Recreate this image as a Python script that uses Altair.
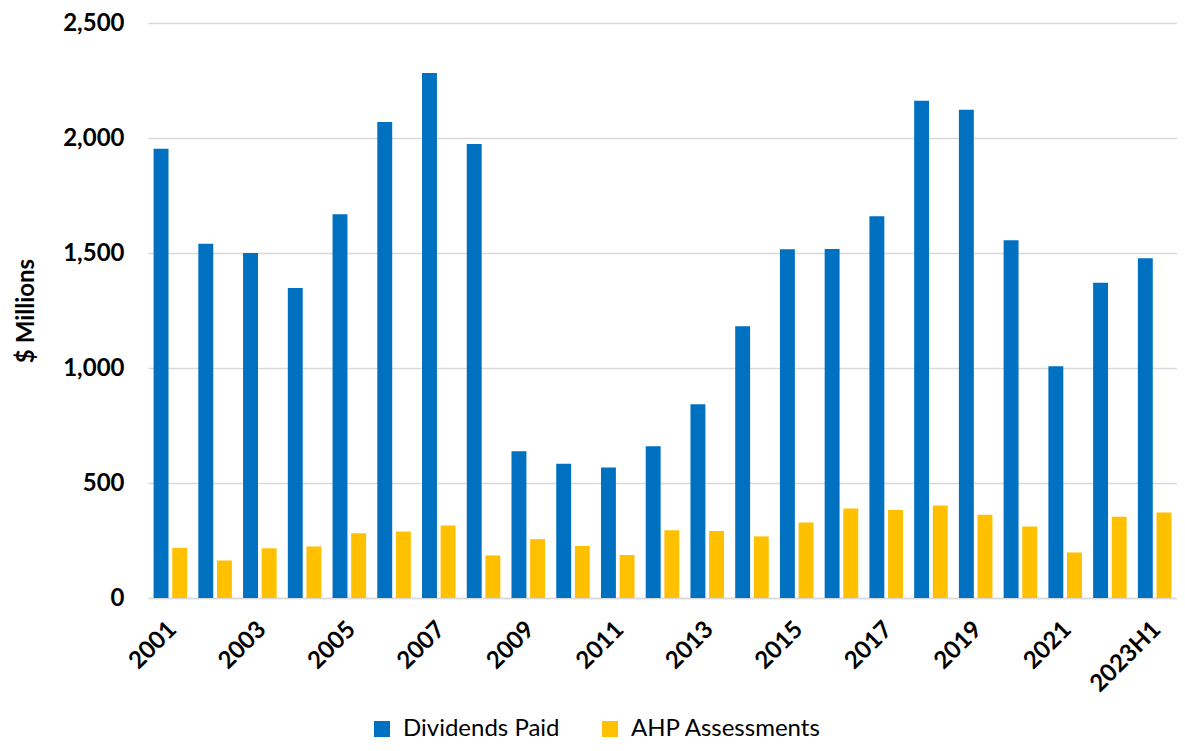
import altair as alt
import pandas as pd

years = ["2001", "2002", "2003", "2004", "2005", "2006", "2007", "2008", "2009", "2010",
         "2011", "2012", "2013", "2014", "2015", "2016", "2017", "2018", "2019", "2020",
         "2021", "2022", "2023H1"]
dividends = [1953, 1540, 1500, 1348, 1669, 2070, 2283, 1974, 638, 584,
             567, 660, 842, 1182, 1516, 1517, 1660, 2162, 2123, 1555,
             1008, 1371, 1477]
ahp = [218, 163, 216, 224, 281, 289, 315, 185, 256, 226,
       187, 295, 291, 268, 328, 389, 383, 402, 362, 311,
       198, 353, 372]
series = ["Dividends Paid", "AHP Assessments"]
colors = ["#0070C0", "#FFC000"]
y_ticks = [0, 500, 1000, 1500, 2000, 2500]
x_labels = years[::2]

rows = []
for i, yr in enumerate(years):
    rows.append({"year": yr, "series": series[0], "value": dividends[i]})
    rows.append({"year": yr, "series": series[1], "value": ahp[i]})
df = pd.DataFrame(rows)

FONT = "Lato"

chart = alt.Chart(df).mark_bar().encode(
    x=alt.X("year:N", sort=years,
            scale=alt.Scale(paddingInner=0.25, paddingOuter=0.125),
            axis=alt.Axis(values=x_labels, labelAngle=-45, title=None,
                          labelFont=FONT, labelFontWeight="bold", labelFontSize=24,
                          labelColor="#000000", labelPadding=19, labelOffset=-6,
                          ticks=False, domainColor="#d9d9d9", domainWidth=1.5,
                          grid=False)),
    xOffset=alt.XOffset("series:N", sort=series, scale=alt.Scale(paddingInner=0.2)),
    y=alt.Y("value:Q", scale=alt.Scale(domain=[0, 2500], nice=False),
            axis=alt.Axis(values=y_ticks, format=",.0f", title="$ Millions",
                          titleFont=FONT, titleFontWeight="bold", titleFontSize=24,
                          titleColor="#000000", titlePadding=24,
                          labelFont=FONT, labelFontWeight="bold", labelFontSize=24,
                          labelColor="#000000", labelPadding=24,
                          ticks=False, domain=False,
                          gridColor="#d9d9d9", gridWidth=1.5)),
    color=alt.Color("series:N", sort=series,
                    scale=alt.Scale(domain=series, range=colors),
                    legend=alt.Legend(title=None, orient="none", direction="horizontal",
                                      legendX=222, legendY=694,
                                      symbolType="square", symbolSize=256,
                                      symbolStrokeWidth=0,
                                      labelFont=FONT, labelFontSize=24,
                                      labelColor="#000000", labelOffset=9,
                                      labelLimit=400, columnPadding=38)),
).properties(
    width=1029,
    height=575,
    autosize=alt.AutoSizeParams(type="none"),
    padding={"left": 140, "top": 15, "right": 0, "bottom": 145},
).configure_view(stroke=None)

chart.save("out.html", embed_options={"renderer": "svg", "actions": False})
